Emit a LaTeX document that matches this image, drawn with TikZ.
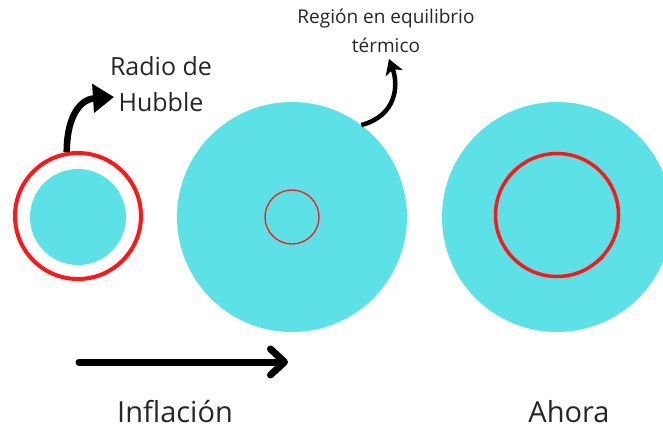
\documentclass[tikz,border=0pt]{standalone}
\usepackage{fontspec}
\setmainfont{Open Sans}
\usetikzlibrary{arrows.meta,positioning}
\definecolor{cielo}{HTML}{5CE1E6}
\definecolor{rojo}{HTML}{FF1616}

\begin{document}
\begin{tikzpicture}[x=1pt,y=-1pt,
  disk/.style={circle,fill=cielo,inner sep=0pt},
  ring/.style={circle,draw=rojo,inner sep=0pt},
  texto/.style={inner sep=0pt,align=center,text=black!85},
  flecha/.style={line width=7pt,line cap=round,-{Straight Barb[length=14pt,width=26pt,line cap=round,line join=round]}}]
  \clip (0,0) rectangle (663,429);

  % Hubble radius at the start
  \node[disk,minimum size=96] (small) at (78,217) {};
  \node[ring,line width=4pt,minimum size=126] (hubble) at (78,216) {};

  % after inflation
  \node[disk,minimum size=230] (big) at (292,217) {};
  \node[ring,line width=1.3pt,minimum size=54] (region) at (292,217) {};

  % now
  \node[disk,minimum size=230] (now) at (557,217) {};
  \node[ring,line width=3.5pt,minimum size=123] (nowring) at (557,215) {};

  % labels
  \node[texto,font=\fontsize{25}{36}\selectfont] (hubbletext) at (161,84.5) {Radio de\\Hubble};
  \node[texto,font=\fontsize{19}{29}\selectfont] (regiontext) at (386,30.5) {Región en equilibrio\\térmico};
  \node[texto,font=\fontsize{29}{35}\selectfont,anchor=base] (inflacion) at (175,422) {Inflación};
  \node[texto,font=\fontsize{29}{35}\selectfont,anchor=base] (ahora) at (569,422) {Ahora};

  % arrows
  \coordinate (hubbletip) at (114,97);
  \coordinate (regiontip) at (389,59);
  \coordinate (infstart) at (79,362);
  \coordinate (infend) at (288,362);
  \draw[line width=6.5pt,-{Triangle[length=21pt,width=28pt]}] (hubble.100)
    .. controls (67,112) and (83,99) .. (hubbletip);
  \draw[line width=4.5pt,-{Stealth[length=15pt,width=18pt,inset=4pt]}] (big.53)
    .. controls (396,116) and (399,86) .. (regiontip);
  \draw[flecha] (infstart) -- (infend);
\end{tikzpicture}
\end{document}
